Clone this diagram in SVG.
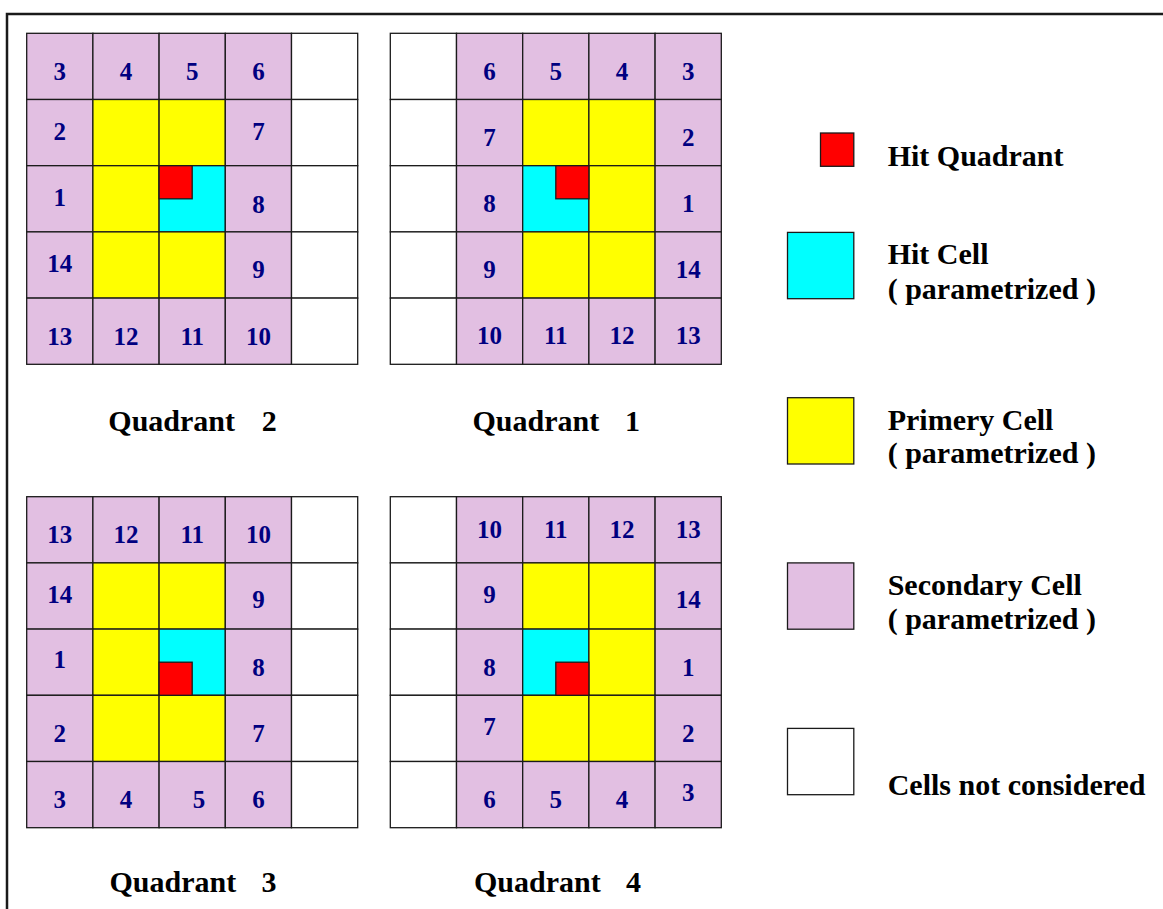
<svg xmlns="http://www.w3.org/2000/svg" width="1163" height="909" viewBox="0 0 1163 909">
<style>
.c{stroke:#1a1a1a;stroke-width:1.3}
.p{fill:#E2BFE2}
.y{fill:#FFFF00}
.h{fill:#00FFFF}
.w{fill:#FFFFFF}
.r{fill:#FF0000;stroke:#1a1a1a;stroke-width:1.3}
.n{font-family:"Liberation Serif","Times New Roman",serif;font-weight:bold;font-size:25px;fill:#000080;text-anchor:middle}
.t{font-family:"Liberation Serif","Times New Roman",serif;font-weight:bold;font-size:30px;fill:#000000}
</style>
<rect x="0" y="0" width="1163" height="909" fill="#FFFFFF"/>
<path d="M7,909 V14 H1163" fill="none" stroke="#1a1a1a" stroke-width="2.5"/>

<g id="quadrant2">
<g class="c">
<rect class="p" x="26.7" y="33.3" width="66.2" height="66.2"/>
<rect class="p" x="92.9" y="33.3" width="66.2" height="66.2"/>
<rect class="p" x="159.1" y="33.3" width="66.2" height="66.2"/>
<rect class="p" x="225.3" y="33.3" width="66.2" height="66.2"/>
<rect class="w" x="291.5" y="33.3" width="66.2" height="66.2"/>
<rect class="p" x="26.7" y="99.5" width="66.2" height="66.2"/>
<rect class="y" x="92.9" y="99.5" width="66.2" height="66.2"/>
<rect class="y" x="159.1" y="99.5" width="66.2" height="66.2"/>
<rect class="p" x="225.3" y="99.5" width="66.2" height="66.2"/>
<rect class="w" x="291.5" y="99.5" width="66.2" height="66.2"/>
<rect class="p" x="26.7" y="165.7" width="66.2" height="66.2"/>
<rect class="y" x="92.9" y="165.7" width="66.2" height="66.2"/>
<rect class="h" x="159.1" y="165.7" width="66.2" height="66.2"/>
<rect class="p" x="225.3" y="165.7" width="66.2" height="66.2"/>
<rect class="w" x="291.5" y="165.7" width="66.2" height="66.2"/>
<rect class="p" x="26.7" y="231.9" width="66.2" height="66.2"/>
<rect class="y" x="92.9" y="231.9" width="66.2" height="66.2"/>
<rect class="y" x="159.1" y="231.9" width="66.2" height="66.2"/>
<rect class="p" x="225.3" y="231.9" width="66.2" height="66.2"/>
<rect class="w" x="291.5" y="231.9" width="66.2" height="66.2"/>
<rect class="p" x="26.7" y="298.1" width="66.2" height="66.2"/>
<rect class="p" x="92.9" y="298.1" width="66.2" height="66.2"/>
<rect class="p" x="159.1" y="298.1" width="66.2" height="66.2"/>
<rect class="p" x="225.3" y="298.1" width="66.2" height="66.2"/>
<rect class="w" x="291.5" y="298.1" width="66.2" height="66.2"/>
</g>
<rect class="r" x="159.1" y="165.7" width="33.1" height="33.1"/>
<text class="n" x="59.8" y="80">3</text>
<text class="n" x="126" y="80">4</text>
<text class="n" x="192.2" y="80">5</text>
<text class="n" x="258.4" y="80">6</text>
<text class="n" x="59.8" y="140">2</text>
<text class="n" x="258.4" y="140">7</text>
<text class="n" x="59.8" y="205.7">1</text>
<text class="n" x="258.4" y="212.7">8</text>
<text class="n" x="59.8" y="271.7">14</text>
<text class="n" x="258.4" y="278.3">9</text>
<text class="n" x="59.8" y="345">13</text>
<text class="n" x="126" y="345">12</text>
<text class="n" x="192.2" y="345">11</text>
<text class="n" x="258.4" y="345">10</text>
<text class="t" x="108.3" y="430.7">Quadrant <tspan x="261.7">2</tspan></text>
</g>

<g id="quadrant1">
<g class="c">
<rect class="w" x="390.3" y="33.3" width="66.2" height="66.2"/>
<rect class="p" x="456.5" y="33.3" width="66.2" height="66.2"/>
<rect class="p" x="522.7" y="33.3" width="66.2" height="66.2"/>
<rect class="p" x="588.9" y="33.3" width="66.2" height="66.2"/>
<rect class="p" x="655.1" y="33.3" width="66.2" height="66.2"/>
<rect class="w" x="390.3" y="99.5" width="66.2" height="66.2"/>
<rect class="p" x="456.5" y="99.5" width="66.2" height="66.2"/>
<rect class="y" x="522.7" y="99.5" width="66.2" height="66.2"/>
<rect class="y" x="588.9" y="99.5" width="66.2" height="66.2"/>
<rect class="p" x="655.1" y="99.5" width="66.2" height="66.2"/>
<rect class="w" x="390.3" y="165.7" width="66.2" height="66.2"/>
<rect class="p" x="456.5" y="165.7" width="66.2" height="66.2"/>
<rect class="h" x="522.7" y="165.7" width="66.2" height="66.2"/>
<rect class="y" x="588.9" y="165.7" width="66.2" height="66.2"/>
<rect class="p" x="655.1" y="165.7" width="66.2" height="66.2"/>
<rect class="w" x="390.3" y="231.9" width="66.2" height="66.2"/>
<rect class="p" x="456.5" y="231.9" width="66.2" height="66.2"/>
<rect class="y" x="522.7" y="231.9" width="66.2" height="66.2"/>
<rect class="y" x="588.9" y="231.9" width="66.2" height="66.2"/>
<rect class="p" x="655.1" y="231.9" width="66.2" height="66.2"/>
<rect class="w" x="390.3" y="298.1" width="66.2" height="66.2"/>
<rect class="p" x="456.5" y="298.1" width="66.2" height="66.2"/>
<rect class="p" x="522.7" y="298.1" width="66.2" height="66.2"/>
<rect class="p" x="588.9" y="298.1" width="66.2" height="66.2"/>
<rect class="p" x="655.1" y="298.1" width="66.2" height="66.2"/>
</g>
<rect class="r" x="555.8" y="165.7" width="33.1" height="33.1"/>
<text class="n" x="489.6" y="80">6</text>
<text class="n" x="555.8" y="80">5</text>
<text class="n" x="622" y="80">4</text>
<text class="n" x="688.2" y="80">3</text>
<text class="n" x="489.6" y="145.7">7</text>
<text class="n" x="688.2" y="145.7">2</text>
<text class="n" x="489.6" y="212.3">8</text>
<text class="n" x="688.2" y="212.3">1</text>
<text class="n" x="489.6" y="277.7">9</text>
<text class="n" x="688.2" y="277.7">14</text>
<text class="n" x="489.6" y="344.3">10</text>
<text class="n" x="555.8" y="344.3">11</text>
<text class="n" x="622" y="344.3">12</text>
<text class="n" x="688.2" y="344.3">13</text>
<text class="t" x="472.5" y="430.7">Quadrant <tspan x="625">1</tspan></text>
</g>

<g id="quadrant3">
<g class="c">
<rect class="p" x="26.7" y="496.7" width="66.2" height="66.2"/>
<rect class="p" x="92.9" y="496.7" width="66.2" height="66.2"/>
<rect class="p" x="159.1" y="496.7" width="66.2" height="66.2"/>
<rect class="p" x="225.3" y="496.7" width="66.2" height="66.2"/>
<rect class="w" x="291.5" y="496.7" width="66.2" height="66.2"/>
<rect class="p" x="26.7" y="562.9" width="66.2" height="66.2"/>
<rect class="y" x="92.9" y="562.9" width="66.2" height="66.2"/>
<rect class="y" x="159.1" y="562.9" width="66.2" height="66.2"/>
<rect class="p" x="225.3" y="562.9" width="66.2" height="66.2"/>
<rect class="w" x="291.5" y="562.9" width="66.2" height="66.2"/>
<rect class="p" x="26.7" y="629.1" width="66.2" height="66.2"/>
<rect class="y" x="92.9" y="629.1" width="66.2" height="66.2"/>
<rect class="h" x="159.1" y="629.1" width="66.2" height="66.2"/>
<rect class="p" x="225.3" y="629.1" width="66.2" height="66.2"/>
<rect class="w" x="291.5" y="629.1" width="66.2" height="66.2"/>
<rect class="p" x="26.7" y="695.3" width="66.2" height="66.2"/>
<rect class="y" x="92.9" y="695.3" width="66.2" height="66.2"/>
<rect class="y" x="159.1" y="695.3" width="66.2" height="66.2"/>
<rect class="p" x="225.3" y="695.3" width="66.2" height="66.2"/>
<rect class="w" x="291.5" y="695.3" width="66.2" height="66.2"/>
<rect class="p" x="26.7" y="761.5" width="66.2" height="66.2"/>
<rect class="p" x="92.9" y="761.5" width="66.2" height="66.2"/>
<rect class="p" x="159.1" y="761.5" width="66.2" height="66.2"/>
<rect class="p" x="225.3" y="761.5" width="66.2" height="66.2"/>
<rect class="w" x="291.5" y="761.5" width="66.2" height="66.2"/>
</g>
<rect class="r" x="159.1" y="662.2" width="33.1" height="33.1"/>
<text class="n" x="59.8" y="543.3">13</text>
<text class="n" x="126" y="543.3">12</text>
<text class="n" x="192.2" y="543.3">11</text>
<text class="n" x="258.4" y="543.3">10</text>
<text class="n" x="59.8" y="603.3">14</text>
<text class="n" x="258.4" y="608.3">9</text>
<text class="n" x="59.8" y="668.3">1</text>
<text class="n" x="258.4" y="675.7">8</text>
<text class="n" x="59.8" y="741.7">2</text>
<text class="n" x="258.4" y="741.7">7</text>
<text class="n" x="59.8" y="808.3">3</text>
<text class="n" x="126" y="808.3">4</text>
<text class="n" x="199" y="808.3">5</text>
<text class="n" x="258.4" y="808.3">6</text>
<text class="t" x="109.5" y="892.3">Quadrant <tspan x="261.5">3</tspan></text>
</g>

<g id="quadrant4">
<g class="c">
<rect class="w" x="390.3" y="496.7" width="66.2" height="66.2"/>
<rect class="p" x="456.5" y="496.7" width="66.2" height="66.2"/>
<rect class="p" x="522.7" y="496.7" width="66.2" height="66.2"/>
<rect class="p" x="588.9" y="496.7" width="66.2" height="66.2"/>
<rect class="p" x="655.1" y="496.7" width="66.2" height="66.2"/>
<rect class="w" x="390.3" y="562.9" width="66.2" height="66.2"/>
<rect class="p" x="456.5" y="562.9" width="66.2" height="66.2"/>
<rect class="y" x="522.7" y="562.9" width="66.2" height="66.2"/>
<rect class="y" x="588.9" y="562.9" width="66.2" height="66.2"/>
<rect class="p" x="655.1" y="562.9" width="66.2" height="66.2"/>
<rect class="w" x="390.3" y="629.1" width="66.2" height="66.2"/>
<rect class="p" x="456.5" y="629.1" width="66.2" height="66.2"/>
<rect class="h" x="522.7" y="629.1" width="66.2" height="66.2"/>
<rect class="y" x="588.9" y="629.1" width="66.2" height="66.2"/>
<rect class="p" x="655.1" y="629.1" width="66.2" height="66.2"/>
<rect class="w" x="390.3" y="695.3" width="66.2" height="66.2"/>
<rect class="p" x="456.5" y="695.3" width="66.2" height="66.2"/>
<rect class="y" x="522.7" y="695.3" width="66.2" height="66.2"/>
<rect class="y" x="588.9" y="695.3" width="66.2" height="66.2"/>
<rect class="p" x="655.1" y="695.3" width="66.2" height="66.2"/>
<rect class="w" x="390.3" y="761.5" width="66.2" height="66.2"/>
<rect class="p" x="456.5" y="761.5" width="66.2" height="66.2"/>
<rect class="p" x="522.7" y="761.5" width="66.2" height="66.2"/>
<rect class="p" x="588.9" y="761.5" width="66.2" height="66.2"/>
<rect class="p" x="655.1" y="761.5" width="66.2" height="66.2"/>
</g>
<rect class="r" x="555.8" y="662.2" width="33.1" height="33.1"/>
<text class="n" x="489.6" y="537.7">10</text>
<text class="n" x="555.8" y="537.7">11</text>
<text class="n" x="622" y="537.7">12</text>
<text class="n" x="688.2" y="537.7">13</text>
<text class="n" x="489.6" y="602.7">9</text>
<text class="n" x="688.2" y="608.3">14</text>
<text class="n" x="489.6" y="675.7">8</text>
<text class="n" x="688.2" y="675.7">1</text>
<text class="n" x="489.6" y="735">7</text>
<text class="n" x="688.2" y="741.7">2</text>
<text class="n" x="489.6" y="808.3">6</text>
<text class="n" x="555.8" y="808.3">5</text>
<text class="n" x="622" y="808.3">4</text>
<text class="n" x="688.2" y="801">3</text>
<text class="t" x="474" y="892.3">Quadrant <tspan x="626">4</tspan></text>
</g>

<g id="legend-hit-quadrant">
<rect class="r" x="820.5" y="133" width="33.3" height="33.3"/>
<text class="t" x="887.7" y="166">Hit Quadrant</text>
</g>
<g id="legend-hit-cell">
<rect class="h c" x="787.5" y="232.4" width="66.3" height="66.3"/>
<text class="t" x="887.7" y="264.3">Hit Cell</text>
<text class="t" x="887.7" y="299">( parametrized )</text>
</g>
<g id="legend-primary-cell">
<rect class="y c" x="787.5" y="397.7" width="66.3" height="66.3"/>
<text class="t" x="887.7" y="430">Primery Cell</text>
<text class="t" x="887.7" y="463.3">( parametrized )</text>
</g>
<g id="legend-secondary-cell">
<rect class="p c" x="787.5" y="562.9" width="66.3" height="66.3"/>
<text class="t" x="887.7" y="595">Secondary Cell</text>
<text class="t" x="887.7" y="629.3">( parametrized )</text>
</g>
<g id="legend-not-considered">
<rect class="w c" x="787.5" y="728.4" width="66.3" height="66.3"/>
<text class="t" x="887.7" y="795">Cells not considered</text>
</g>
</svg>
